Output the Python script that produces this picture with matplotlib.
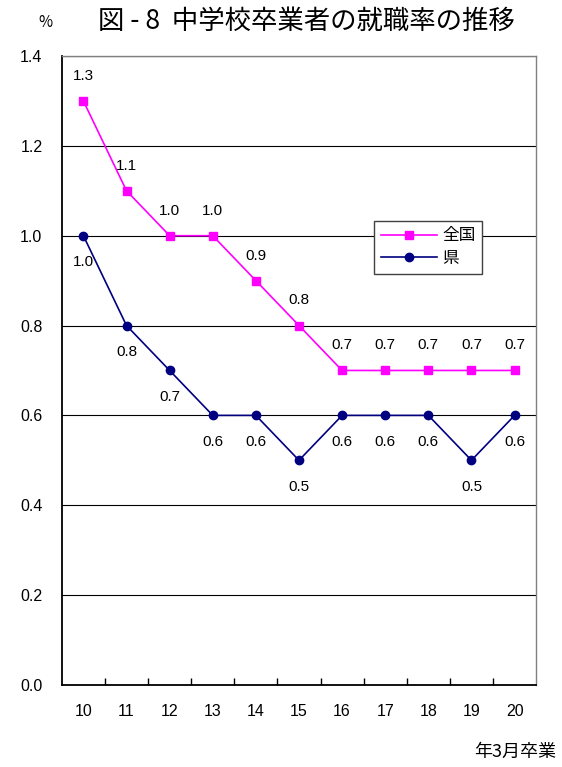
import matplotlib
matplotlib.use("Agg")
from matplotlib import pyplot as plt
from matplotlib.ticker import FixedLocator

plt.rcParams['font.family'] = ['Noto Sans CJK JP', 'DejaVu Sans']

years = ["10", "11", "12", "13", "14", "15", "16", "17", "18", "19", "20"]
zenkoku = [1.3, 1.1, 1.0, 1.0, 0.9, 0.8, 0.7, 0.7, 0.7, 0.7, 0.7]
ken = [1.0, 0.8, 0.7, 0.6, 0.6, 0.5, 0.6, 0.6, 0.6, 0.5, 0.6]

fig = plt.figure(figsize=(5.62, 7.67), dpi=100)
ax = fig.add_axes([0.110, 0.107, 0.844, 0.820])

x = list(range(len(years)))
ax.plot(x, zenkoku, color="#FF00FF", marker="s", markersize=6, linewidth=1.2, label="全国")
ax.plot(x, ken, color="#000080", marker="o", markersize=6, linewidth=1.2, label="県")

for i, v in enumerate(zenkoku):
    ax.annotate(f"{v:.1f}", (i, v), xytext=(0, 13), textcoords="offset points",
                ha="center", va="bottom", fontsize=11, family="Liberation Sans")
for i, v in enumerate(ken):
    ax.annotate(f"{v:.1f}", (i, v), xytext=(0, -14), textcoords="offset points",
                ha="center", va="top", fontsize=11, family="Liberation Sans")

ax.set_xlim(-0.5, len(years) - 0.5)
ax.set_ylim(0, 1.4)
ax.set_yticks([0.0, 0.2, 0.4, 0.6, 0.8, 1.0, 1.2, 1.4])
ax.set_yticklabels([f"{t:.1f}" for t in ax.get_yticks()], family="Liberation Sans", fontsize=11.5)
ax.tick_params(axis="y", length=0, pad=14)
ax.set_xticks(x)
ax.set_xticklabels(years, family="Liberation Sans", fontsize=11.5)
ax.tick_params(axis="x", which="major", length=0, pad=14)
ax.xaxis.set_minor_locator(FixedLocator([i + 0.5 for i in range(len(years) - 1)]))
ax.tick_params(axis="x", which="minor", direction="in", length=5, width=1, color="black")

ax.grid(axis="y", color="black", linewidth=0.8)
ax.set_axisbelow(True)
for side in ["left", "bottom"]:
    ax.spines[side].set_color("black")
    ax.spines[side].set_linewidth(1.3)
for side in ["top", "right"]:
    ax.spines[side].set_color("#808080")
    ax.spines[side].set_linewidth(1.0)

leg = ax.legend(loc="upper left", bbox_to_anchor=(0.658, 0.738), borderaxespad=0,
                fancybox=False, framealpha=1, edgecolor="#404040", fontsize=12,
                handlelength=3.4, borderpad=0.4, labelspacing=0.35, handletextpad=0.3)
leg.get_frame().set_linewidth(1.0)

fig.text(0.08, 0.971, "%", ha="center", va="center", fontsize=11)
fig.text(0.545, 0.972, "図 - 8  中学校卒業者の就職率の推移", ha="center", va="center", fontsize=19)
fig.text(0.99, 0.02, "年3月卒業", ha="right", va="center", fontsize=13)

fig.savefig("out.png", dpi=100)
